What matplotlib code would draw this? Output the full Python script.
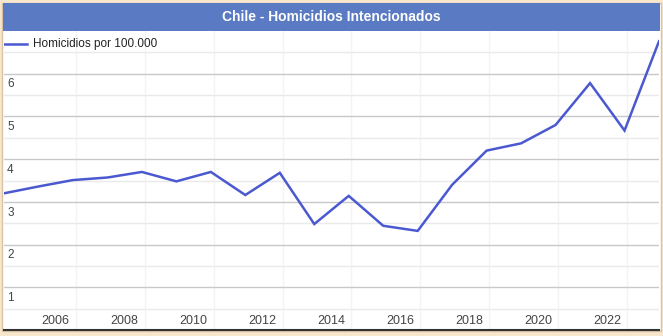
import matplotlib.pyplot as plt
from matplotlib.patches import Rectangle

# tasa anual de homicidios intencionados (por 100.000 hab.)
years = list(range(2004, 2024))
rate = [3.20, 3.36, 3.51, 3.57, 3.70, 3.48, 3.70, 3.16, 3.68, 2.48,
        3.14, 2.44, 2.32, 3.40, 4.20, 4.37, 4.80, 5.78, 4.67, 6.76]
label_years = list(range(2006, 2024, 2))
series_name = "Homicidios por 100.000"
title = "Chile - Homicidios Intencionados"

W, H = 663, 336
fig = plt.figure(figsize=(W / 100, H / 100), dpi=100)
fig.patch.set_facecolor("#f8e7cd")

def px(x0, y0, x1, y1):
    # pixel box -> figure fraction (left, bottom, width, height)
    return [x0 / W, 1 - y1 / H, (x1 - x0) / W, (y1 - y0) / H]

# white panel with thin border
l, b, w, h = px(2, 3, 661, 331)
fig.patches.append(Rectangle((l, b), w, h, transform=fig.transFigure,
                             facecolor="white", edgecolor="#d9c3a5", lw=1, zorder=-2))
# title bar
l, b, w, h = px(3, 3, 660, 31)
fig.patches.append(Rectangle((l, b), w, h, transform=fig.transFigure,
                             facecolor="#5a7bc3", edgecolor="none", zorder=-1))
fig.text(l + w / 2, b + h / 2, title, ha="center", va="center",
         color="white", fontsize=10, fontweight="bold", family="Liberation Sans")

ax = fig.add_axes(px(4, 31, 659, 330))
ax.set_zorder(2)
ax.set_facecolor("white")
ax.set_xlim(2004, 2023)
ax.set_ylim(0, 7)

# grid
for v in range(1, 7):
    ax.axhline(v, color="#c8c8c8", lw=1, zorder=1)
for v in [x + 0.5 for x in range(0, 7)]:
    ax.axhline(v, color="#eaeaea", lw=1, zorder=1)
for yr in label_years:
    ax.axvline(yr + 0.08, color="#f4f4f4", lw=1, zorder=0.5)

ax.plot(years, rate, color="#4a59d0", lw=1.8, zorder=3, solid_joinstyle="miter")

# y labels inside the plot, just under each gridline
for v in range(1, 7):
    ax.text(2004.09, v - 0.11, str(v), ha="left", va="top", fontsize=8.5,
            color="#444444", family="Liberation Sans")

ax.set_xticks([yr - 0.5 for yr in label_years])
ax.set_xticklabels([str(yr) for yr in label_years], fontsize=9,
                   color="#444444", family="Liberation Sans")
ax.tick_params(axis="x", length=0, pad=-10.5)
ax.set_yticks([])

for s in ["top", "left", "right"]:
    ax.spines[s].set_visible(False)
ax.spines["bottom"].set_color("#333333")
ax.spines["bottom"].set_linewidth(1.5)

# legend
ax.plot([2004.0, 2004.67], [6.7, 6.7], color="#4a59d0", lw=1.8, zorder=4)
ax.text(2004.84, 6.7, series_name, va="center", ha="left", fontsize=8.5,
        color="#222222", family="Liberation Sans")

fig.savefig("out.png", dpi=100, facecolor=fig.get_facecolor())
